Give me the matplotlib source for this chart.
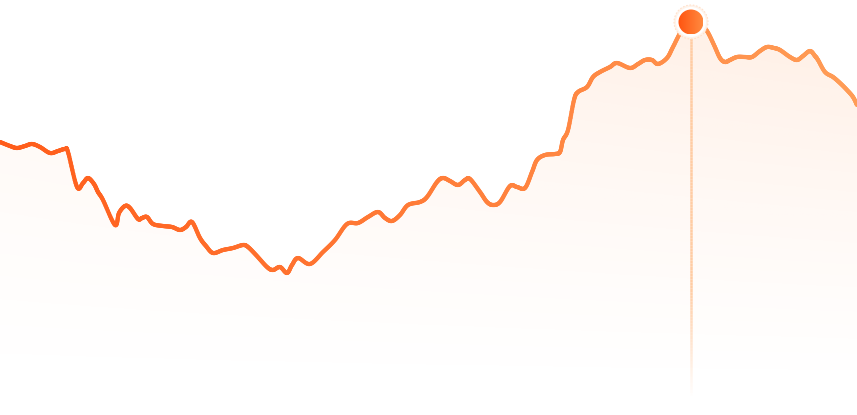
import numpy as np
import matplotlib
matplotlib.use("Agg")
import matplotlib.pyplot as plt
from matplotlib.collections import LineCollection
from matplotlib.patches import Circle, Polygon
from matplotlib.colors import to_rgb

# traced series (x position, value above the bottom edge)
t = [0, 10, 17, 25, 32, 40, 50, 58, 65, 68, 77, 83, 88, 94, 98, 103, 115, 119,
     125, 130, 138, 142, 147, 153, 163, 172, 180, 186, 192, 200, 206, 213, 223,
     233, 243, 248, 256, 267, 273, 280, 287, 292, 298, 310, 323, 335, 347, 358,
     368, 378, 385, 392, 400, 408, 420, 427, 437, 443, 450, 458, 465, 470, 480,
     487, 493, 500, 510, 517, 525, 532, 537, 545, 555, 560, 563, 568, 574, 578,
     587, 593, 600, 610, 617, 630, 638, 645, 652, 658, 667, 673, 682, 691, 700,
     707, 714, 720, 725, 730, 737, 745, 752, 760, 767, 774, 780, 790, 797, 803,
     810, 815, 818, 825, 833, 840, 847, 853, 857]
ypix = [142, 146, 148, 146, 144, 147, 153, 151, 149, 152, 187, 183, 178, 184,
        192, 200, 225, 213, 206, 208, 219, 218, 217, 224, 226, 227, 230, 227,
        222, 238, 246, 253, 250, 248, 245, 247, 255, 267, 270, 267, 273, 265,
        258, 264, 252, 240, 224, 223, 217, 212, 218, 221, 215, 205, 202, 197,
        182, 178, 181, 185, 180, 179, 192, 202, 205, 202, 186, 187, 188, 172,
        160, 155, 154, 152, 140, 130, 100, 92, 87, 77, 72, 67, 63, 68, 64, 60,
        60, 64, 58, 47, 30, 22, 24, 31, 45, 58, 62, 60, 57, 57, 57, 51, 47, 48,
        50, 57, 60, 56, 51, 56, 60, 72, 77, 83, 90, 97, 105]
H = 415
values = [H - p for p in ypix]
peak_index = int(np.argmax(values))

W = 857


def catmull_rom(xs, ys, n=12):
    # smooth drawing curve through the traced points
    xs = np.asarray(xs, float)
    ys = np.asarray(ys, float)
    px = np.concatenate([[xs[0]], xs, [xs[-1]]])
    py = np.concatenate([[ys[0]], ys, [ys[-1]]])
    outx, outy = [], []
    s = np.linspace(0, 1, n, endpoint=False)
    for i in range(1, len(px) - 2):
        for arr, out in ((px, outx), (py, outy)):
            p0, p1, p2, p3 = arr[i - 1], arr[i], arr[i + 1], arr[i + 2]
            out.extend(0.5 * ((2 * p1) + (-p0 + p2) * s
                              + (2 * p0 - 5 * p1 + 4 * p2 - p3) * s ** 2
                              + (-p0 + 3 * p1 - 3 * p2 + p3) * s ** 3))
    outx.append(xs[-1])
    outy.append(ys[-1])
    return np.array(outx), np.array(outy)


fig = plt.figure(figsize=(W / 100, H / 100), dpi=100)
ax = fig.add_axes([0, 0, 1, 1])
ax.set_xlim(0, W)
ax.set_ylim(0, H)
ax.axis("off")

sx, sy = catmull_rom(t, values)

# area fill: vertical fade to white, slightly stronger on the right
fill_rgb = np.array(to_rgb("#ff8a3d"))
gy = np.linspace(0, 1, 300)[:, None]           # 0 at bottom, 1 at top
gx = np.linspace(0, 1, 400)[None, :]
alpha = np.clip((gy * H - 20) / (H - 40), 0, 1) ** 1.3 * 0.14 * (0.5 + 0.5 * gx)
img = np.zeros((300, 400, 4))
img[..., :3] = fill_rgb
img[..., 3] = alpha
im = ax.imshow(img, extent=[0, W, 0, H], origin="lower", aspect="auto", zorder=1)
poly = Polygon(np.column_stack([np.r_[sx, W, 0], np.r_[sy, 0, 0]]),
               closed=True, facecolor="none", edgecolor="none")
ax.add_patch(poly)
im.set_clip_path(poly)

# line with left-to-right colour gradient
c_left = np.array(to_rgb("#ff5c1a"))
c_right = np.array(to_rgb("#ff9d57"))
pts = np.column_stack([sx, sy]).reshape(-1, 1, 2)
segs = np.concatenate([pts[:-1], pts[1:]], axis=1)
f = ((sx[:-1] + sx[1:]) / 2 / W)[:, None]
cols = c_left * (1 - f) + c_right * f
lc = LineCollection(segs, colors=cols, linewidths=3.0, capstyle="round",
                    joinstyle="round", zorder=3)
ax.add_collection(lc)

# vertical guide at the peak, fading out downward
px_, pv = t[peak_index], values[peak_index]
vy = np.linspace(pv, 20, 120)
vsegs = [[(px_, vy[i]), (px_, vy[i + 1])] for i in range(len(vy) - 1)]
va = np.clip((vy[:-1] - 20) / 110, 0, 1)
vcols = [(1.0, 0.80, 0.64, a) for a in va]
ax.add_collection(LineCollection(vsegs, colors=vcols, linewidths=1.8, zorder=2))

# peak marker: soft halo, white ring, gradient disk
ax.add_patch(Circle((px_, pv), 17, facecolor="#fff3ea", edgecolor="#ffe2cc",
                    linewidth=0.8, linestyle=(0, (1.5, 1.5)), zorder=4))
ax.add_patch(Circle((px_, pv), 15, facecolor="white", edgecolor="none", zorder=5))
disk = Circle((px_, pv), 12.5, facecolor="none", edgecolor="none", zorder=6)
ax.add_patch(disk)
dg = np.zeros((2, 50, 3))
dx = np.linspace(0, 1, 50)[:, None]
dg[:] = to_rgb("#ff5410") * (1 - dx) + np.array(to_rgb("#ff8a40")) * dx
dim = ax.imshow(dg, extent=[px_ - 12.5, px_ + 12.5, pv - 12.5, pv + 12.5],
                origin="lower", aspect="auto", zorder=6)
dim.set_clip_path(disk)

ax.set_xlim(0, W)
ax.set_ylim(0, H)
fig.savefig("out.png", dpi=100, facecolor="white")
